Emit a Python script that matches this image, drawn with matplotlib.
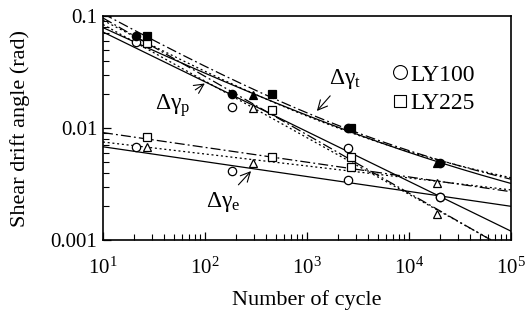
import numpy as np
import matplotlib
matplotlib.use("Agg")
import matplotlib.pyplot as plt
from matplotlib.lines import Line2D

plt.rcParams['font.family'] = ['Liberation Serif', 'DejaVu Serif']
plt.rcParams['mathtext.fontset'] = 'custom'
plt.rcParams['mathtext.rm'] = 'Liberation Serif'

# fitted line end values at N = 10 and N = 1e5
n_ends = [10, 1e5]
el_ly100 = [0.0068, 0.0020]
el_ly225 = [0.0091, 0.0027]
el_tri = [0.0075, 0.0028]
pl_ly100 = [0.072, 0.0012]
pl_ly225 = [0.096, 0.00079]
pl_tri = [0.084, 0.0008]

# test points
n_c = [21, 184, 2500, 20000]
tot_c = [0.066, 0.020, 0.010, 0.0049]
pl_c = [0.059, 0.0154, 0.0066, 0.0024]
el_c = [0.0068, 0.0041, 0.0034, 0.0024]

n_s = [27, 454, 2700]
tot_s = [0.066, 0.020, 0.010]
pl_s = [0.057, 0.0145, 0.0055]
el_s = [0.0083, 0.0055, 0.0045]

n_t = [27, 295, 19000]
tot_t = [None, 0.0197, 0.0049]
pl_t = [None, 0.0151, 0.0017]
el_t = [0.0068, 0.0049, 0.0032]


def powerline(N, ends):
    b = np.log10(ends[1] / ends[0]) / np.log10(n_ends[1] / n_ends[0])
    return ends[0] * (N / n_ends[0]) ** b


N = np.logspace(1, 5, 300)
fig = plt.figure(figsize=(5.27, 3.19), dpi=100)
ax = fig.add_axes([0.1954, 0.2476, 0.7742, 0.7022])

styles = {'c': '-', 's': (0, (8, 2.5, 1.5, 2.5)), 't': (0, (1.6, 2.2))}
lw = 0.9
for key, el, pl in [('c', el_ly100, pl_ly100), ('s', el_ly225, pl_ly225), ('t', el_tri, pl_tri)]:
    e = powerline(N, el)
    p = powerline(N, pl)
    ax.plot(N, e, color='k', lw=lw, ls=styles[key])
    ax.plot(N, p, color='k', lw=lw, ls=styles[key])
    ax.plot(N, e + p, color='k', lw=lw, ls=styles[key])


def pts(n, v, marker, filled):
    xs = [a for a, b in zip(n, v) if b is not None]
    ys = [b for b in v if b is not None]
    ax.plot(xs, ys, ls='none', marker=marker, ms=6 if marker == 'o' else 5.5,
            mec='k', mfc='k' if filled else 'white', mew=0.9, zorder=5)


pts(n_c, el_c, 'o', False)
pts(n_c, pl_c, 'o', False)
pts(n_c, tot_c, 'o', True)
pts(n_s, el_s, 's', False)
pts(n_s, pl_s, 's', False)
pts(n_s, tot_s, 's', True)
pts(n_t, el_t, '^', False)
pts(n_t, pl_t, '^', False)
pts(n_t, tot_t, '^', True)

ax.set_xscale('log')
ax.set_yscale('log')
ax.set_xlim(10, 1e5)
ax.set_ylim(0.001, 0.1)
ax.set_yticks([0.001, 0.01, 0.1])
ax.set_yticklabels(['0.001', '0.01', '0.1'])
ax.tick_params(which='both', direction='in', top=False, right=False, labelsize=15)
ax.tick_params(which='major', length=6, width=0.9, pad=13)
ax.tick_params(which='minor', length=4, width=0.8)
ax.tick_params(axis='y', which='major', pad=4)
for s in ax.spines.values():
    s.set_linewidth(1.2)

ax.set_xlabel('Number of cycle', fontsize=16, labelpad=8)
ax.set_ylabel('Shear drift angle (rad)', fontsize=16, labelpad=15)

arrow = dict(arrowstyle='->', color='k', lw=0.8)
ax.annotate(r'$\mathrm{Δγ_t}$', xy=(1200, 0.0136), xytext=(2360, 0.0274),
            ha='center', va='center', fontsize=17, arrowprops=arrow)
ax.annotate(r'$\mathrm{Δγ_p}$', xy=(105, 0.0258), xytext=(48, 0.016),
            ha='center', va='center', fontsize=17, arrowprops=arrow)
ax.annotate(r'$\mathrm{Δγ_e}$', xy=(295, 0.0043), xytext=(150, 0.0022),
            ha='center', va='center', fontsize=17, arrowprops=arrow)

handles = [Line2D([], [], ls='none', marker='o', ms=10, mfc='white', mec='k', mew=0.8),
           Line2D([], [], ls='none', marker='s', ms=9, mfc='white', mec='k', mew=0.8)]
ax.legend(handles, ['LY100', 'LY225'], loc='upper left', bbox_to_anchor=(0.71, 0.785),
          frameon=False, fontsize=17, borderpad=0, borderaxespad=0,
          handlelength=0.6, handletextpad=0.15, labelspacing=0.3)

fig.savefig('out.png', dpi=100)
